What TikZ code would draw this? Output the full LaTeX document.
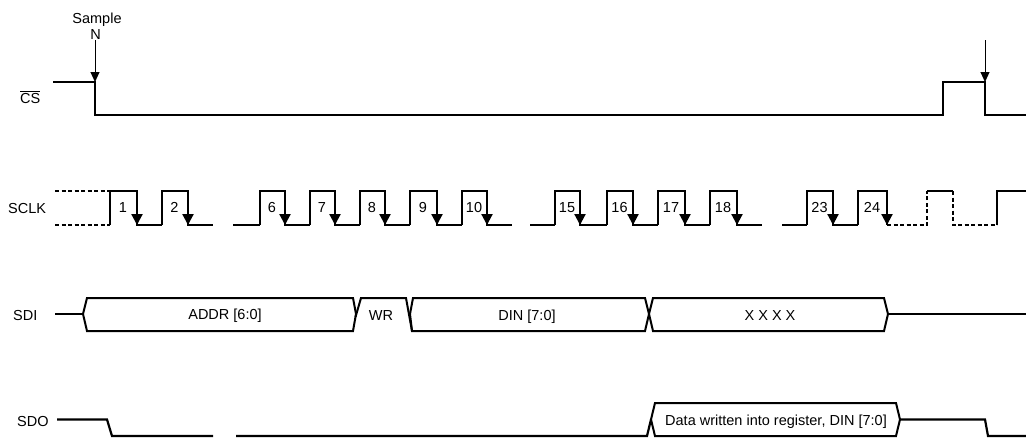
\documentclass[tikz,border=0pt]{standalone}
\usepackage{fontspec}
\setmainfont{Liberation Sans}
\usetikzlibrary{arrows.meta}
\begin{document}
\begin{tikzpicture}[x=1pt,y=-1pt,
  sig/.style={line width=2.2pt, line join=miter},
  dsig/.style={line width=2.2pt, dash pattern=on 4pt off 2.5pt},
  bus/.style={line width=2pt, line join=miter},
  clkarrow/.style={line width=2.2pt,-{Triangle[width=11pt,length=11pt]}},
  markarrow/.style={line width=1pt,-{Triangle[width=9pt,length=10pt]}},
  lbl/.style={font=\fontsize{14.5}{17}\selectfont, inner sep=0pt, anchor=base},
  lblw/.style={lbl, anchor=base west}
]
\useasboundingbox (0,0) rectangle (1026,437);

% ---------------- CS ----------------
\draw[sig] (53,82) -- (95,82) -- (95,115) -- (943,115) -- (943,82) -- (985,82) -- (985,115) -- (1026,115);
\node[lbl] (sample) at (97,23.5) {Sample};
\node[lbl] (n) at (95.5,39.5) {N};
\coordinate (a1s) at (95,40);
\coordinate (a1e) at (95,82);
\coordinate (a2s) at (985,40);
\coordinate (a2e) at (985,82);
\draw[markarrow] (a1s) -- (a1e);
\draw[markarrow] (a2s) -- (a2e);
\node[lblw] (cs) at (20,103) {$\overline{\mbox{CS}}$};

% ---------------- SCLK ----------------
\node[lblw] (sclk) at (8,213) {SCLK};
\draw[dsig] (55,191) -- (110,191);
\draw[dsig] (55,225) -- (110,225);
\draw[dsig] (110,225) -- (110,191);
% pulses: rise/fall/label/next
\foreach \r/\f/\n/\e in {110/137/1/162, 162/188/2/213,
  260/285/6/310, 310/335/7/360, 360/385/8/410, 410/437/9/462, 462/487/10/512,
  555/580/15/607, 607/633/16/658, 658/685/17/710, 710/737/18/762,
  807/833/23/858}{
  \draw[sig] (\r,225) -- (\r,191) -- (\f,191) -- (\f,225) -- (\e,225);
  \draw[clkarrow] (\f,191) -- (\f,225);
  \node[lbl] (p\n) at ({(\r+\f)/2-0.5},212) {\n};
}
\draw[sig] (858,225) -- (858,191) -- (887,191) -- (887,225);
\draw[clkarrow] (887,191) -- (887,225);
\node[lbl] (p24) at (872,212) {24};
\draw[sig] (233,225) -- (260,225);
\draw[sig] (530,225) -- (555,225);
\draw[sig] (782,225) -- (807,225);
\draw[dsig] (887,225) -- (927,225) -- (927,191);
\draw[sig] (927,191) -- (953,191);
\draw[dsig] (953,191) -- (953,225) -- (997,225);
\draw[sig] (997,225) -- (997,191) -- (1026,191);

% ---------------- SDI ----------------
\node[lblw] (sdi) at (13,320.5) {SDI};
\draw[sig] (55,314) -- (83,314);
\draw[bus] (83,314) -- (87,298) -- (353,298) -- (356,314) -- (353,331) -- (87,331) -- cycle;
\draw[bus] (355.5,317) -- (361,298) -- (406,298) -- (412,331);
\draw[bus] (410,314) -- (413,298) -- (645,298) -- (649,314) -- (645,331) -- (412,331) -- cycle;
\draw[bus] (649,314) -- (653,298) -- (884,298) -- (888,314) -- (884,331) -- (653,331) -- cycle;
\draw[sig] (888,314) -- (1026,314);
\node[lbl] (addr) at (225,319) {ADDR [6:0]};
\node[lbl] (wr) at (381,320) {WR};
\node[lbl] (din) at (527,320) {DIN [7:0]};
\node[lbl] (xxxx) at (770,320) {X X X X};

% ---------------- SDO ----------------
\node[lblw] (sdo) at (17,426.5) {SDO};
\draw[sig] (57,419.5) -- (107,419.5) -- (112,436) -- (213,436);
\draw[sig] (236,436) -- (647,436) -- (651,419.5);
\draw[bus] (651,419.5) -- (655,403) -- (896,403) -- (900,419.5) -- (896,436) -- (655,436) -- cycle;
\draw[sig] (900,419.5) -- (985,419.5) -- (988,436) -- (1026,436);
\node[lbl] (data) at (776,425) {Data written into register, DIN [7:0]};
\end{tikzpicture}
\end{document}
